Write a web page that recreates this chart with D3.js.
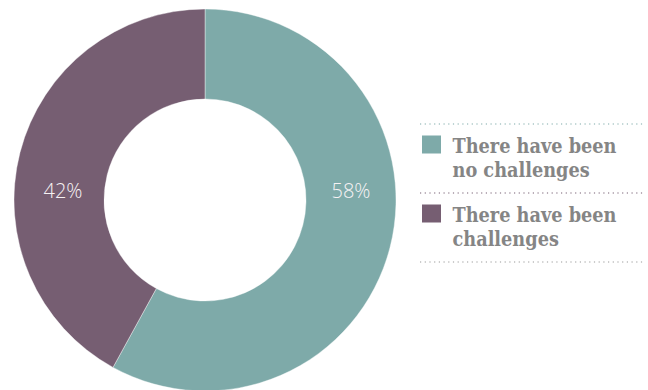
<!DOCTYPE html>
<html><head><meta charset="utf-8">
<script src="https://cdn.jsdelivr.net/npm/d3@7"></script>
<style>body{margin:0;background:#fff}svg{display:block}</style>
</head><body>
<svg id="chart" width="648" height="390"></svg>
<script>
const categories = ["There have been no challenges", "There have been challenges"];
const legendLines = [["There have been", "no challenges"], ["There have been", "challenges"]];
const values = [58, 42];
const labels = ["58%", "42%"];
const colors = ["#7eaaa9", "#765e72"];

const svg = d3.select("#chart");
const cx = 205, cy = 200, rOuter = 191, rInner = 101;
const pie = d3.pie().sort(null).value(d => d)(values);
const arc = d3.arc().innerRadius(rInner).outerRadius(rOuter);
const g = svg.append("g").attr("transform", `translate(${cx},${cy})`);
g.selectAll("path").data(pie).join("path")
  .attr("d", arc).attr("fill", (d, i) => colors[i])
  .attr("stroke", "#ffffff").attr("stroke-width", 0.4);

// labels placed horizontally at ring middle
const rMid = (rInner + rOuter) / 2;
const labelX = [rMid, -rMid + 4];
g.selectAll("text.lbl").data(labels).join("text")
  .attr("class", "lbl")
  .attr("x", (d, i) => labelX[i]).attr("y", -2)
  .attr("text-anchor", "middle")
  .attr("font-family", "'Open Sans', sans-serif").attr("font-weight", 300)
  .attr("font-size", 20).attr("fill", "#f6f2f4")
  .text(d => d);

// legend
const lx = 420, lw = 225;
const lineYs = [124, 193, 262];
const lineColors = [colors[0], colors[1], "#999999"];
lineYs.forEach((y, i) => {
  svg.append("line").attr("x1", lx).attr("x2", lx + lw).attr("y1", y).attr("y2", y)
    .attr("stroke", lineColors[i]).attr("stroke-width", 1.2)
    .attr("stroke-dasharray", "1.2,3.5");
});
categories.forEach((c, i) => {
  const top = lineYs[i];
  svg.append("rect").attr("x", 422).attr("y", top + 11.5).attr("width", 19).attr("height", 18)
    .attr("fill", colors[i]);
  const t = svg.append("text").attr("class", "leg").attr("font-family", "'DejaVu Serif Condensed', 'DejaVu Serif', serif")
    .attr("font-stretch", "condensed")
    .attr("font-weight", "bold").attr("font-size", 20).attr("fill", "#858585");
  legendLines[i].forEach((ln, j) => {
    t.append("tspan").attr("x", 452.5).attr("y", top + 28.5 + j * 24.5).text(ln);
  });
});
// fit font width to reference (~164px for "There have been")
const probe = svg.select("text.leg tspan").node();
const w = probe.getComputedTextLength();
const fs = 20 * 164 / w;
svg.selectAll("text.leg").attr("font-size", fs);
</script>
</body></html>
